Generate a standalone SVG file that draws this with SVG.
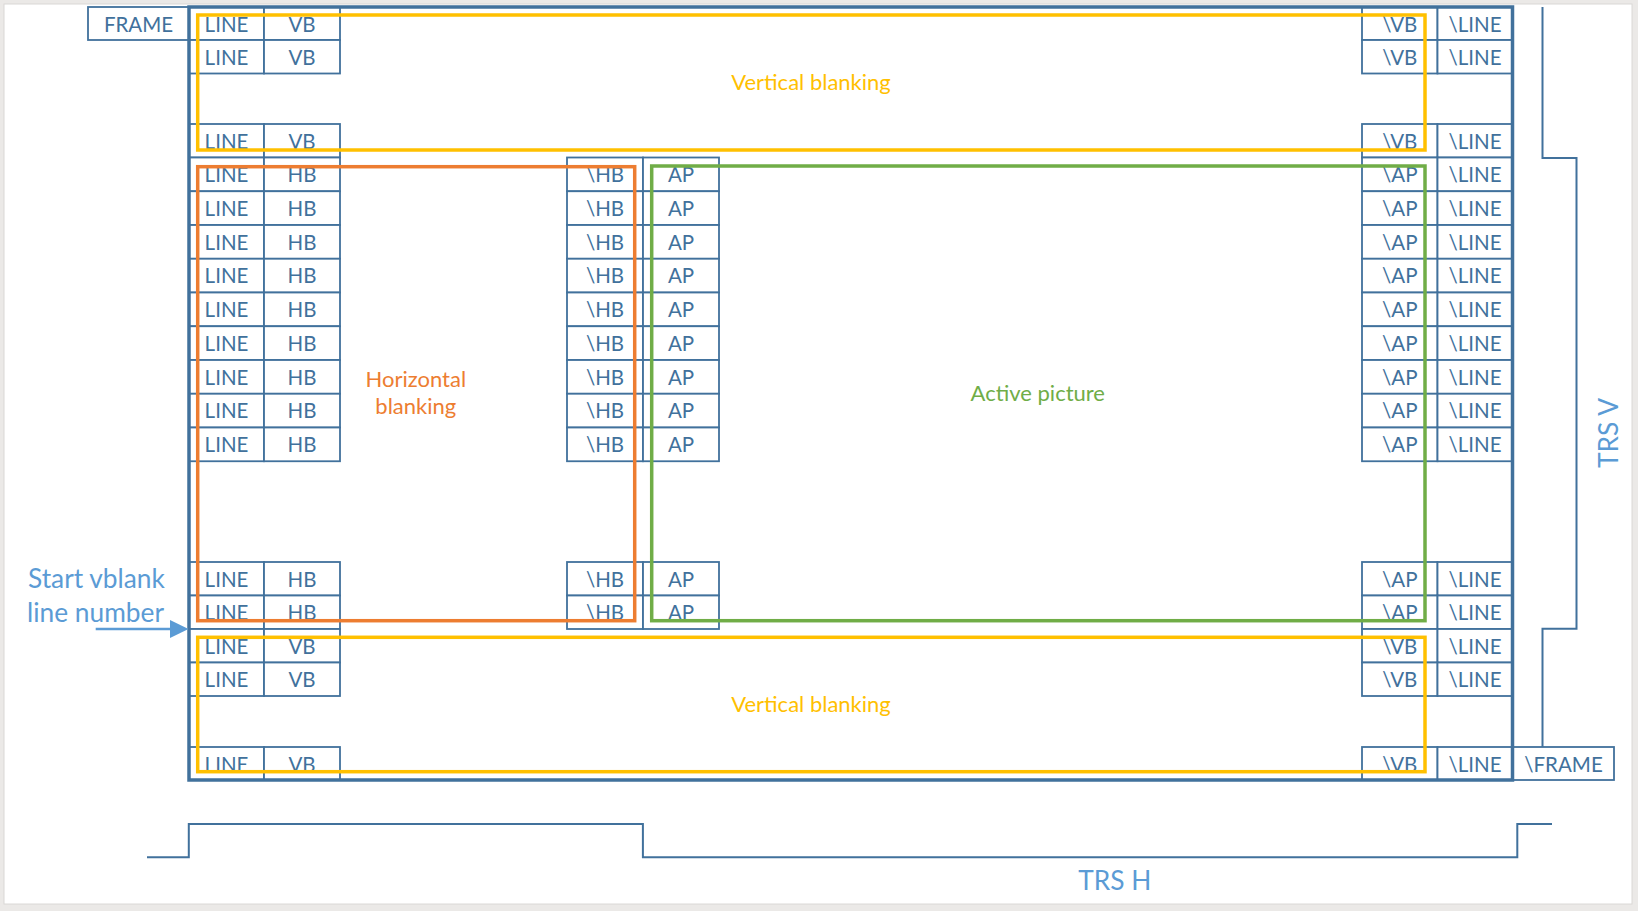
<svg xmlns="http://www.w3.org/2000/svg" width="1638" height="911" viewBox="0 0 1638 911">
<style>
.c rect{fill:#fff;stroke:#41719C;stroke-width:1.8}
.c text{font-family:Lato,"Open Sans",sans-serif;font-size:20.5px;fill:#41719C;text-anchor:middle}
.frame{fill:none;stroke:#41719C;stroke-width:3.5}
.wave{fill:none;stroke:#41719C;stroke-width:2}
.box{fill:none;stroke-width:3.5}
.lbl{font-family:Lato,"Open Sans",sans-serif;font-size:22px;text-anchor:middle}
.blue{font-family:Lato,"Open Sans",sans-serif;font-size:26.3px;fill:#5B9BD5}
</style>
<rect x="0" y="0" width="1638" height="911" fill="#EBE9E7"/>
<rect x="4" y="4" width="1628" height="900" fill="#fff" stroke="#DAD8D6" stroke-width="1"/>

<g id="nodes">
<!-- Row 1 -->
<g id="frame-start" class="c"><rect x="88" y="7" width="101" height="33"/><text x="138.5" y="31.5">FRAME</text></g>
<g id="r1-line" class="c"><rect x="189" y="7" width="75" height="33"/><text x="226.5" y="31.5">LINE</text></g>
<g id="r1-vb" class="c"><rect x="264" y="7" width="76" height="33"/><text x="302" y="31.5">VB</text></g>
<g id="r1-evb" class="c"><rect x="1362" y="7" width="75.5" height="33"/><text x="1399.75" y="31.5">\VB</text></g>
<g id="r1-eline" class="c"><rect x="1437.5" y="7" width="75" height="33"/><text x="1475" y="31.5">\LINE</text></g>
<!-- Row 2 -->
<g id="r2-line" class="c"><rect x="189" y="40" width="75" height="33.5"/><text x="226.5" y="64.5">LINE</text></g>
<g id="r2-vb" class="c"><rect x="264" y="40" width="76" height="33.5"/><text x="302" y="64.5">VB</text></g>
<g id="r2-evb" class="c"><rect x="1362" y="40" width="75.5" height="33.5"/><text x="1399.75" y="64.5">\VB</text></g>
<g id="r2-eline" class="c"><rect x="1437.5" y="40" width="75" height="33.5"/><text x="1475" y="64.5">\LINE</text></g>
<!-- Row 3 -->
<g id="r3-line" class="c"><rect x="189" y="124" width="75" height="33.5"/><text x="226.5" y="148.5">LINE</text></g>
<g id="r3-vb" class="c"><rect x="264" y="124" width="76" height="33.5"/><text x="302" y="148.5">VB</text></g>
<g id="r3-evb" class="c"><rect x="1362" y="124" width="75.5" height="33.5"/><text x="1399.75" y="148.5">\VB</text></g>
<g id="r3-eline" class="c"><rect x="1437.5" y="124" width="75" height="33.5"/><text x="1475" y="148.5">\LINE</text></g>
<!-- HB rows 1-9 -->
<g id="h1-line" class="c"><rect x="189" y="157.5" width="75" height="33.75"/><text x="226.5" y="182.1">LINE</text></g>
<g id="h1-hb" class="c"><rect x="264" y="157.5" width="76" height="33.75"/><text x="302" y="182.1">HB</text></g>
<g id="h1-ehb" class="c"><rect x="567" y="157.5" width="76" height="33.75"/><text x="605" y="182.1">\HB</text></g>
<g id="h1-ap" class="c"><rect x="643" y="157.5" width="76" height="33.75"/><text x="681" y="182.1">AP</text></g>
<g id="h1-eap" class="c"><rect x="1362" y="157.5" width="75.5" height="33.75"/><text x="1399.75" y="182.1">\AP</text></g>
<g id="h1-eline" class="c"><rect x="1437.5" y="157.5" width="75" height="33.75"/><text x="1475" y="182.1">\LINE</text></g>

<g id="h2-line" class="c"><rect x="189" y="191.25" width="75" height="33.75"/><text x="226.5" y="215.85">LINE</text></g>
<g id="h2-hb" class="c"><rect x="264" y="191.25" width="76" height="33.75"/><text x="302" y="215.85">HB</text></g>
<g id="h2-ehb" class="c"><rect x="567" y="191.25" width="76" height="33.75"/><text x="605" y="215.85">\HB</text></g>
<g id="h2-ap" class="c"><rect x="643" y="191.25" width="76" height="33.75"/><text x="681" y="215.85">AP</text></g>
<g id="h2-eap" class="c"><rect x="1362" y="191.25" width="75.5" height="33.75"/><text x="1399.75" y="215.85">\AP</text></g>
<g id="h2-eline" class="c"><rect x="1437.5" y="191.25" width="75" height="33.75"/><text x="1475" y="215.85">\LINE</text></g>

<g id="h3-line" class="c"><rect x="189" y="225" width="75" height="33.75"/><text x="226.5" y="249.6">LINE</text></g>
<g id="h3-hb" class="c"><rect x="264" y="225" width="76" height="33.75"/><text x="302" y="249.6">HB</text></g>
<g id="h3-ehb" class="c"><rect x="567" y="225" width="76" height="33.75"/><text x="605" y="249.6">\HB</text></g>
<g id="h3-ap" class="c"><rect x="643" y="225" width="76" height="33.75"/><text x="681" y="249.6">AP</text></g>
<g id="h3-eap" class="c"><rect x="1362" y="225" width="75.5" height="33.75"/><text x="1399.75" y="249.6">\AP</text></g>
<g id="h3-eline" class="c"><rect x="1437.5" y="225" width="75" height="33.75"/><text x="1475" y="249.6">\LINE</text></g>

<g id="h4-line" class="c"><rect x="189" y="258.75" width="75" height="33.75"/><text x="226.5" y="283.35">LINE</text></g>
<g id="h4-hb" class="c"><rect x="264" y="258.75" width="76" height="33.75"/><text x="302" y="283.35">HB</text></g>
<g id="h4-ehb" class="c"><rect x="567" y="258.75" width="76" height="33.75"/><text x="605" y="283.35">\HB</text></g>
<g id="h4-ap" class="c"><rect x="643" y="258.75" width="76" height="33.75"/><text x="681" y="283.35">AP</text></g>
<g id="h4-eap" class="c"><rect x="1362" y="258.75" width="75.5" height="33.75"/><text x="1399.75" y="283.35">\AP</text></g>
<g id="h4-eline" class="c"><rect x="1437.5" y="258.75" width="75" height="33.75"/><text x="1475" y="283.35">\LINE</text></g>

<g id="h5-line" class="c"><rect x="189" y="292.5" width="75" height="33.75"/><text x="226.5" y="317.1">LINE</text></g>
<g id="h5-hb" class="c"><rect x="264" y="292.5" width="76" height="33.75"/><text x="302" y="317.1">HB</text></g>
<g id="h5-ehb" class="c"><rect x="567" y="292.5" width="76" height="33.75"/><text x="605" y="317.1">\HB</text></g>
<g id="h5-ap" class="c"><rect x="643" y="292.5" width="76" height="33.75"/><text x="681" y="317.1">AP</text></g>
<g id="h5-eap" class="c"><rect x="1362" y="292.5" width="75.5" height="33.75"/><text x="1399.75" y="317.1">\AP</text></g>
<g id="h5-eline" class="c"><rect x="1437.5" y="292.5" width="75" height="33.75"/><text x="1475" y="317.1">\LINE</text></g>

<g id="h6-line" class="c"><rect x="189" y="326.25" width="75" height="33.75"/><text x="226.5" y="350.85">LINE</text></g>
<g id="h6-hb" class="c"><rect x="264" y="326.25" width="76" height="33.75"/><text x="302" y="350.85">HB</text></g>
<g id="h6-ehb" class="c"><rect x="567" y="326.25" width="76" height="33.75"/><text x="605" y="350.85">\HB</text></g>
<g id="h6-ap" class="c"><rect x="643" y="326.25" width="76" height="33.75"/><text x="681" y="350.85">AP</text></g>
<g id="h6-eap" class="c"><rect x="1362" y="326.25" width="75.5" height="33.75"/><text x="1399.75" y="350.85">\AP</text></g>
<g id="h6-eline" class="c"><rect x="1437.5" y="326.25" width="75" height="33.75"/><text x="1475" y="350.85">\LINE</text></g>

<g id="h7-line" class="c"><rect x="189" y="360" width="75" height="33.75"/><text x="226.5" y="384.6">LINE</text></g>
<g id="h7-hb" class="c"><rect x="264" y="360" width="76" height="33.75"/><text x="302" y="384.6">HB</text></g>
<g id="h7-ehb" class="c"><rect x="567" y="360" width="76" height="33.75"/><text x="605" y="384.6">\HB</text></g>
<g id="h7-ap" class="c"><rect x="643" y="360" width="76" height="33.75"/><text x="681" y="384.6">AP</text></g>
<g id="h7-eap" class="c"><rect x="1362" y="360" width="75.5" height="33.75"/><text x="1399.75" y="384.6">\AP</text></g>
<g id="h7-eline" class="c"><rect x="1437.5" y="360" width="75" height="33.75"/><text x="1475" y="384.6">\LINE</text></g>

<g id="h8-line" class="c"><rect x="189" y="393.75" width="75" height="33.75"/><text x="226.5" y="418.35">LINE</text></g>
<g id="h8-hb" class="c"><rect x="264" y="393.75" width="76" height="33.75"/><text x="302" y="418.35">HB</text></g>
<g id="h8-ehb" class="c"><rect x="567" y="393.75" width="76" height="33.75"/><text x="605" y="418.35">\HB</text></g>
<g id="h8-ap" class="c"><rect x="643" y="393.75" width="76" height="33.75"/><text x="681" y="418.35">AP</text></g>
<g id="h8-eap" class="c"><rect x="1362" y="393.75" width="75.5" height="33.75"/><text x="1399.75" y="418.35">\AP</text></g>
<g id="h8-eline" class="c"><rect x="1437.5" y="393.75" width="75" height="33.75"/><text x="1475" y="418.35">\LINE</text></g>

<g id="h9-line" class="c"><rect x="189" y="427.5" width="75" height="33.75"/><text x="226.5" y="452.1">LINE</text></g>
<g id="h9-hb" class="c"><rect x="264" y="427.5" width="76" height="33.75"/><text x="302" y="452.1">HB</text></g>
<g id="h9-ehb" class="c"><rect x="567" y="427.5" width="76" height="33.75"/><text x="605" y="452.1">\HB</text></g>
<g id="h9-ap" class="c"><rect x="643" y="427.5" width="76" height="33.75"/><text x="681" y="452.1">AP</text></g>
<g id="h9-eap" class="c"><rect x="1362" y="427.5" width="75.5" height="33.75"/><text x="1399.75" y="452.1">\AP</text></g>
<g id="h9-eline" class="c"><rect x="1437.5" y="427.5" width="75" height="33.75"/><text x="1475" y="452.1">\LINE</text></g>
<!-- Lower HB rows -->
<g id="l1-line" class="c"><rect x="189" y="562" width="75" height="33.5"/><text x="226.5" y="586.5">LINE</text></g>
<g id="l1-hb" class="c"><rect x="264" y="562" width="76" height="33.5"/><text x="302" y="586.5">HB</text></g>
<g id="l1-ehb" class="c"><rect x="567" y="562" width="76" height="33.5"/><text x="605" y="586.5">\HB</text></g>
<g id="l1-ap" class="c"><rect x="643" y="562" width="76" height="33.5"/><text x="681" y="586.5">AP</text></g>
<g id="l1-eap" class="c"><rect x="1362" y="562" width="75.5" height="33.5"/><text x="1399.75" y="586.5">\AP</text></g>
<g id="l1-eline" class="c"><rect x="1437.5" y="562" width="75" height="33.5"/><text x="1475" y="586.5">\LINE</text></g>

<g id="l2-line" class="c"><rect x="189" y="595.5" width="75" height="33.5"/><text x="226.5" y="620">LINE</text></g>
<g id="l2-hb" class="c"><rect x="264" y="595.5" width="76" height="33.5"/><text x="302" y="620">HB</text></g>
<g id="l2-ehb" class="c"><rect x="567" y="595.5" width="76" height="33.5"/><text x="605" y="620">\HB</text></g>
<g id="l2-ap" class="c"><rect x="643" y="595.5" width="76" height="33.5"/><text x="681" y="620">AP</text></g>
<g id="l2-eap" class="c"><rect x="1362" y="595.5" width="75.5" height="33.5"/><text x="1399.75" y="620">\AP</text></g>
<g id="l2-eline" class="c"><rect x="1437.5" y="595.5" width="75" height="33.5"/><text x="1475" y="620">\LINE</text></g>
<!-- Lower VB rows -->
<g id="v1-line" class="c"><rect x="189" y="629" width="75" height="33.5"/><text x="226.5" y="653.5">LINE</text></g>
<g id="v1-vb" class="c"><rect x="264" y="629" width="76" height="33.5"/><text x="302" y="653.5">VB</text></g>
<g id="v1-evb" class="c"><rect x="1362" y="629" width="75.5" height="33.5"/><text x="1399.75" y="653.5">\VB</text></g>
<g id="v1-eline" class="c"><rect x="1437.5" y="629" width="75" height="33.5"/><text x="1475" y="653.5">\LINE</text></g>

<g id="v2-line" class="c"><rect x="189" y="662.5" width="75" height="33.5"/><text x="226.5" y="687">LINE</text></g>
<g id="v2-vb" class="c"><rect x="264" y="662.5" width="76" height="33.5"/><text x="302" y="687">VB</text></g>
<g id="v2-evb" class="c"><rect x="1362" y="662.5" width="75.5" height="33.5"/><text x="1399.75" y="687">\VB</text></g>
<g id="v2-eline" class="c"><rect x="1437.5" y="662.5" width="75" height="33.5"/><text x="1475" y="687">\LINE</text></g>
<!-- Final row -->
<g id="f-line" class="c"><rect x="189" y="747" width="75" height="33"/><text x="226.5" y="771.5">LINE</text></g>
<g id="f-vb" class="c"><rect x="264" y="747" width="76" height="33"/><text x="302" y="771.5">VB</text></g>
<g id="f-evb" class="c"><rect x="1362" y="747" width="75.5" height="33"/><text x="1399.75" y="771.5">\VB</text></g>
<g id="f-eline" class="c"><rect x="1437.5" y="747" width="75" height="33"/><text x="1475" y="771.5">\LINE</text></g>
<g id="frame-end" class="c"><rect x="1513" y="747" width="101" height="33"/><text x="1563.5" y="771.5">\FRAME</text></g>
</g>

<g id="outer-frame"><rect class="frame" x="189" y="7" width="1323.5" height="773"/></g>

<g id="regions">
<g id="vblank-top"><rect class="box" stroke="#FFC000" x="197.7" y="15" width="1227.3" height="135"/><text class="lbl" fill="#FFC000" x="811" y="89.8">Vertical blanking</text></g>
<g id="hblank"><rect class="box" stroke="#ED7D31" x="197.7" y="166.7" width="437" height="454"/><text class="lbl" fill="#ED7D31" x="415.8" y="386.5">Horizontal</text><text class="lbl" fill="#ED7D31" x="415.8" y="414">blanking</text></g>
<g id="active"><rect class="box" stroke="#70AD47" x="651.7" y="166" width="773.3" height="454.7"/><text class="lbl" fill="#70AD47" x="1037.8" y="400.5">Active picture</text></g>
<g id="vblank-bottom"><rect class="box" stroke="#FFC000" x="197.7" y="637.3" width="1227.3" height="134.4"/><text class="lbl" fill="#FFC000" x="811" y="711.5">Vertical blanking</text></g>
</g>

<g id="connectors">
<path class="wave" d="M147 857.3 H188.8 V824 H642.9 V857.3 H1517.3 V824 H1552"/>
<path class="wave" d="M1542.5 7 V157.9 H1576.5 V628.8 H1542.5 V747"/>
<line x1="95.7" y1="629" x2="172" y2="629" stroke="#5B9BD5" stroke-width="2.5"/>
<path d="M170 620 L188.5 629 L170 638 Z" fill="#5B9BD5"/>
</g>

<g id="labels">
<text class="blue" x="28" y="587.5">Start vblank</text>
<text class="blue" x="27" y="622.3">line number</text>
<text class="blue" x="1114.8" y="890" text-anchor="middle">TRS H</text>
<text class="blue" transform="translate(1618.3 433) rotate(-90)" text-anchor="middle">TRS V</text>
</g>
</svg>
